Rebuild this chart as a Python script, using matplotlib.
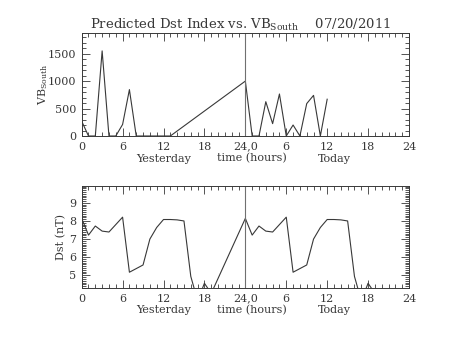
import numpy as np
import matplotlib
matplotlib.use('Agg')
import matplotlib.pyplot as plt
from matplotlib.ticker import MultipleLocator

plt.rcParams['font.family'] = 'DejaVu Serif'
plt.rcParams['mathtext.fontset'] = 'dejavuserif'

# VB south, hourly values (gap between 13 h and 24 h)
vb_hours = [0, 1, 2, 3, 4, 5, 6, 7, 8, 9, 10, 11, 12, 13,
            24, 25, 26, 27, 28, 29, 30, 31, 32, 33, 34, 35, 36]
vb_values = [270, 0, 0, 1550, 0, 0, 210, 845, 0, 0, 0, 0, 0, 0,
             1000, 0, 0, 625, 225, 765, 0, 200, 0, 590, 740, 0, 670]

# Dst, hourly values for yesterday and today
dst_hours = [0, 1, 2, 3, 4, 5, 6, 7, 8, 9, 10, 11, 12, 13, 14, 15, 16, 17, 18, 19,
             24, 25, 26, 27, 28, 29, 30, 31, 32, 33, 34, 35, 36, 37, 38, 39, 40, 41, 42, 43]
dst_values = [8.14, 7.22, 7.72, 7.44, 7.39, 7.8, 8.21, 5.17, 5.37, 5.57,
              7.0, 7.64, 8.08, 8.08, 8.06, 8.0, 4.94, 3.6, 4.56, 4.0,
              8.14, 7.22, 7.72, 7.44, 7.39, 7.8, 8.21, 5.17, 5.37, 5.57,
              7.0, 7.64, 8.08, 8.08, 8.06, 8.0, 4.94, 3.6, 4.56, 4.0]

xticks = [0, 6, 12, 18, 24, 30, 36, 42, 48]
xticklabels = ['0', '6', '12', '18', '24,0', '6', '12', '18', '24']

ink = '#383838'

fig = plt.figure(figsize=(4.53, 3.4), dpi=100)
ax1 = fig.add_axes([0.1803, 0.600, 0.7226, 0.302])
ax2 = fig.add_axes([0.1803, 0.153, 0.7226, 0.301])


def style_axis(ax, ymin, ymax, ymajor, yminor):
    '''IDL-like axis: inward ticks on all four sides.'''
    ax.set_xlim(0, 48)
    ax.set_ylim(ymin, ymax)
    ax.set_xticks(xticks)
    ax.set_xticklabels(xticklabels)
    ax.xaxis.set_minor_locator(MultipleLocator(1))
    ax.yaxis.set_major_locator(MultipleLocator(ymajor))
    ax.yaxis.set_minor_locator(MultipleLocator(yminor))
    ax.tick_params(which='both', direction='in', top=True, right=True,
                   color=ink, labelsize=8, labelcolor=ink, width=0.6)
    ax.tick_params(which='major', length=6, pad=4)
    ax.tick_params(which='minor', length=3)
    for s in ax.spines.values():
        s.set_color(ink)
        s.set_linewidth(0.7)
    ax.axvline(24, color='#707070', lw=0.8)
    ax.text(12, -0.22, 'Yesterday', transform=ax.get_xaxis_transform(),
            ha='center', va='center', fontsize=8, color=ink)
    ax.text(25, -0.22, 'time (hours)', transform=ax.get_xaxis_transform(),
            ha='center', va='center', fontsize=8, color=ink)
    ax.text(37, -0.22, 'Today', transform=ax.get_xaxis_transform(),
            ha='center', va='center', fontsize=8, color=ink)


ax1.plot(vb_hours, vb_values, color=ink, lw=0.8)
style_axis(ax1, 0, 1870, 500, 100)
ax1.set_ylabel(r'VB$_{\rm South}$', fontsize=8, color=ink, labelpad=-2)

ax2.plot(dst_hours, dst_values, color=ink, lw=0.8)
style_axis(ax2, 4.3, 9.95, 1, 0.1)
ax2.set_ylabel('Dst (nT)', fontsize=8, color=ink, labelpad=2)

fig.text(0.532, 0.928, r'Predicted Dst Index vs. VB$_{\rm South}$    07/20/2011',
         ha='center', va='center', fontsize=9.5, color=ink)

fig.savefig('out.png', dpi=100)
